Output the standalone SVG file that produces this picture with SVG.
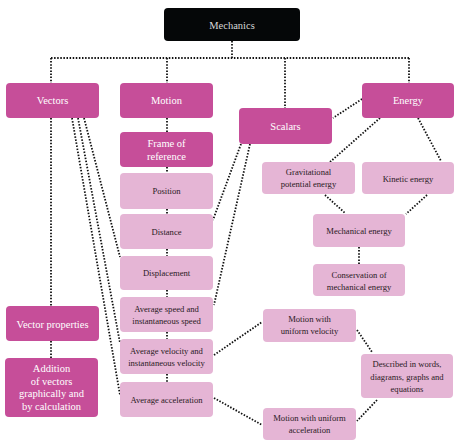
<svg xmlns="http://www.w3.org/2000/svg" width="465" height="447" viewBox="0 0 465 447">
<style>
.dk{fill:#C64E99;}
.lt{fill:#E5B5D5;}
.blk{fill:#050708;}
.tw{font-family:"Liberation Serif",serif;font-size:10.5px;fill:#ffffff;text-anchor:middle;}
.tm{font-family:"Liberation Serif",serif;font-size:10.5px;fill:#d8d8d8;text-anchor:middle;}
.tl{font-family:"Liberation Serif",serif;font-size:8.6px;fill:#2a1a24;text-anchor:middle;}
.c{fill:none;stroke:#111;stroke-width:1.8;stroke-dasharray:1.5 1.6;}
</style>
<g id="connectors">
<path class="c" d="M232 41V58M51 58H409M51 58V83M167 58V83M285 58V108M409 58V83"/>
<path class="c" d="M51 118V306M51 341V358"/>
<path class="c" d="M167 118V132M167 167V173M167 209V214M167 249V256M167 290V297M167 332V339M167 374V382"/>
<path class="c" d="M72 118L120 395M78 118L120 343M84 118L120 257"/>
<path class="c" d="M241 144L213 220M250 144L214 305"/>
<path class="c" d="M362 99L333 118M380 118L330 162M418 118L441 161"/>
<path class="c" d="M325 195L345 213M427 195L406 214M359 247V264"/>
<path class="c" d="M214 355L262 322M214 398L262 425M357 330L372 352M377 400L357 421"/>
</g>
<g id="mechanics"><rect class="blk" x="164" y="8" width="136" height="33" rx="4"/><text class="tm" x="232" y="28.5">Mechanics</text></g>
<g id="vectors"><rect class="dk" x="6" y="83" width="93" height="35" rx="4"/><text class="tw" x="52.5" y="104">Vectors</text></g>
<g id="motion"><rect class="dk" x="120" y="83" width="93" height="35" rx="4"/><text class="tw" x="166.5" y="104">Motion</text></g>
<g id="scalars"><rect class="dk" x="239" y="108" width="93" height="36" rx="4"/><text class="tw" x="285.5" y="130">Scalars</text></g>
<g id="energy"><rect class="dk" x="362" y="83" width="92" height="35" rx="4"/><text class="tw" x="408" y="104">Energy</text></g>
<g id="frame"><rect class="dk" x="120" y="132" width="93" height="35" rx="4"/><text class="tw" x="166.5" y="147">Frame of</text><text class="tw" x="166.5" y="159.5">reference</text></g>
<g id="position"><rect class="lt" x="120" y="173" width="93" height="36" rx="4"/><text class="tl" x="166.5" y="194">Position</text></g>
<g id="distance"><rect class="lt" x="120" y="214" width="93" height="35" rx="4"/><text class="tl" x="166.5" y="235">Distance</text></g>
<g id="displacement"><rect class="lt" x="120" y="256" width="93" height="34" rx="4"/><text class="tl" x="166.5" y="276">Displacement</text></g>
<g id="avgspeed"><rect class="lt" x="120" y="297" width="93" height="35" rx="4"/><text class="tl" x="166.5" y="311.5">Average speed and</text><text class="tl" x="166.5" y="324">instantaneous speed</text></g>
<g id="avgvelocity"><rect class="lt" x="120" y="339" width="93" height="35" rx="4"/><text class="tl" x="166.5" y="354">Average velocity and</text><text class="tl" x="166.5" y="366">instantaneous velocity</text></g>
<g id="avgaccel"><rect class="lt" x="120" y="382" width="93" height="35" rx="4"/><text class="tl" x="166.5" y="402.5">Average acceleration</text></g>
<g id="vectorprops"><rect class="dk" x="6" y="306" width="93" height="35" rx="4"/><text class="tw" x="52.5" y="327.5">Vector properties</text></g>
<g id="addition"><rect class="dk" x="5" y="358" width="93" height="59" rx="4"/><text class="tw" x="51.5" y="372">Addition</text><text class="tw" x="51.5" y="384.5">of vectors</text><text class="tw" x="51.5" y="397">graphically and</text><text class="tw" x="51.5" y="409.5">by calculation</text></g>
<g id="gravitational"><rect class="lt" x="262" y="162" width="93" height="32" rx="4"/><text class="tl" x="308.5" y="175">Gravitational</text><text class="tl" x="308.5" y="187">potential energy</text></g>
<g id="kinetic"><rect class="lt" x="362" y="162" width="92" height="32" rx="4"/><text class="tl" x="408" y="181.5">Kinetic energy</text></g>
<g id="mechanical"><rect class="lt" x="313" y="214" width="92" height="33" rx="4"/><text class="tl" x="359" y="234">Mechanical energy</text></g>
<g id="conservation"><rect class="lt" x="313" y="264" width="92" height="32" rx="4"/><text class="tl" x="359" y="277.5">Conservation of</text><text class="tl" x="359" y="289.5">mechanical energy</text></g>
<g id="uniformvelocity"><rect class="lt" x="263" y="309" width="93" height="33" rx="4"/><text class="tl" x="309.5" y="322">Motion with</text><text class="tl" x="309.5" y="334">uniform velocity</text></g>
<g id="described"><rect class="lt" x="361" y="354" width="92" height="44" rx="4"/><text class="tl" x="407" y="367">Described in words,</text><text class="tl" x="407" y="379.5">diagrams, graphs and</text><text class="tl" x="407" y="392">equations</text></g>
<g id="uniformaccel"><rect class="lt" x="263" y="408" width="93" height="32" rx="4"/><text class="tl" x="309.5" y="421">Motion with uniform</text><text class="tl" x="309.5" y="433">acceleration</text></g>
</svg>
